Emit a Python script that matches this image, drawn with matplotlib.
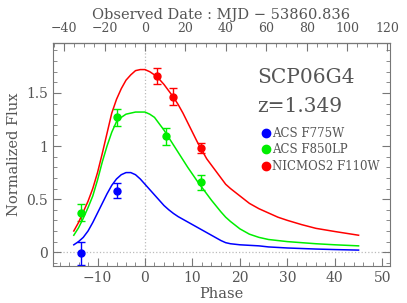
import numpy as np
import matplotlib
matplotlib.use("Agg")
import matplotlib.pyplot as plt
from matplotlib.lines import Line2D
from matplotlib.ticker import MultipleLocator, FixedLocator

# light curve templates (phase in rest-frame days)
phase = [-15, -14, -13, -12, -11, -10, -9, -8, -7, -6, -5, -4, -3, -2, -1, 0,
         1, 2, 3, 4, 5, 6, 7, 8, 9, 10, 11, 12, 13, 14, 15, 16, 17,
         18, 20, 22, 24, 26, 28, 30, 33, 36, 40, 45]
f775_model = [0.07, 0.10, 0.14, 0.20, 0.28, 0.37, 0.46, 0.55, 0.63, 0.69, 0.73,
              0.75, 0.75, 0.73, 0.69, 0.64, 0.59, 0.54, 0.49, 0.44, 0.40, 0.365,
              0.335, 0.31, 0.285, 0.26, 0.235, 0.21, 0.185, 0.16, 0.135, 0.11,
              0.09, 0.08, 0.07, 0.065, 0.06, 0.05, 0.045, 0.04, 0.035, 0.03,
              0.025, 0.02]
f850_model = [0.16, 0.23, 0.32, 0.42, 0.53, 0.68, 0.85, 1.00, 1.13, 1.23, 1.27,
              1.30, 1.31, 1.32, 1.32, 1.32, 1.30, 1.27, 1.21, 1.15, 1.08, 1.01,
              0.94, 0.87, 0.80, 0.735, 0.67, 0.61, 0.55, 0.49, 0.435, 0.38,
              0.33, 0.29, 0.22, 0.17, 0.14, 0.12, 0.11, 0.10, 0.09, 0.08, 0.07,
              0.06]
f110_model = [0.20, 0.28, 0.38, 0.48, 0.60, 0.75, 0.93, 1.12, 1.31, 1.44, 1.54,
              1.62, 1.67, 1.71, 1.72, 1.72, 1.70, 1.67, 1.63, 1.58, 1.52, 1.46,
              1.39, 1.31, 1.22, 1.13, 1.04, 0.96, 0.88, 0.82, 0.76, 0.70, 0.64,
              0.60, 0.53, 0.46, 0.41, 0.37, 0.33, 0.30, 0.26, 0.225, 0.195, 0.16]

# observed points
f775_ph = [-13.5, -5.9]
f775_flux = [-0.01, 0.58]
f775_err = [0.11, 0.07]

f850_ph = [-13.5, -5.9, 4.4, 11.9]
f850_flux = [0.37, 1.27, 1.09, 0.66]
f850_err = [0.08, 0.08, 0.08, 0.07]

f110_ph = [2.5, 5.8, 11.8]
f110_flux = [1.66, 1.465, 0.98]
f110_err = [0.075, 0.08, 0.05]

z = 1.349
mjd_ticks = [-40, -20, 0, 20, 40, 60, 80, 100, 120]
names = ["ACS F775W", "ACS F850LP", "NICMOS2 F110W"]
cols = ["#0000ff", "#00ee00", "#ff0000"]

plt.rcParams['font.family'] = 'DejaVu Serif'
txtc = '#555555'

fig = plt.figure(figsize=(4.07, 3.03), dpi=100)
ax = fig.add_axes([0.130, 0.122, 0.828, 0.736])

ax.axvline(0, color='#bbbbbb', ls=':', lw=0.9, zorder=0)
ax.axhline(0, color='#bbbbbb', ls=':', lw=0.9, zorder=0)

models = [f775_model, f850_model, f110_model]
obs = [(f775_ph, f775_flux, f775_err), (f850_ph, f850_flux, f850_err),
       (f110_ph, f110_flux, f110_err)]
for m, (px, fy, fe), c in zip(models, obs, cols):
    ax.plot(phase, m, color=c, lw=1.1)
    ax.errorbar(px, fy, yerr=fe, fmt='o', color=c, ms=5, elinewidth=1.0,
                capsize=3, capthick=1.0)

ax.set_xlim(-19.4, 51.6)
ax.set_ylim(-0.13, 1.97)
ax.xaxis.set_major_locator(MultipleLocator(10))
ax.xaxis.set_minor_locator(MultipleLocator(2))
ax.yaxis.set_major_locator(MultipleLocator(0.5))
ax.yaxis.set_minor_locator(MultipleLocator(0.1))
ax.yaxis.set_major_formatter(plt.FuncFormatter(lambda v, p: '%g' % v))
ax.tick_params(which='both', direction='in', right=True, colors='#777777',
               labelcolor=txtc, labelsize=10)
ax.tick_params(which='major', length=6)
ax.tick_params(which='minor', length=3)
ax.tick_params(axis='x', which='both', top=False)
for s in ax.spines.values():
    s.set_color('#777777')

ax.set_xlabel('Phase', color=txtc, fontsize=10.5, labelpad=1.5)
ax.set_ylabel('Normalized Flux', color=txtc, fontsize=10.5, labelpad=4)

top = ax.secondary_xaxis('top', functions=(lambda p: p * (1 + z),
                                           lambda d: d / (1 + z)))
top.xaxis.set_major_locator(FixedLocator(mjd_ticks))
top.xaxis.set_minor_locator(MultipleLocator(5))
top.tick_params(which='both', direction='in', colors='#777777',
                labelcolor=txtc, labelsize=9, pad=6)
top.tick_params(which='major', length=6)
top.tick_params(which='minor', length=3)
top.set_xlabel('Observed Date : MJD \u2212 53860.836', color=txtc,
               fontsize=10.5, labelpad=2)

ax.text(0.605, 0.845, 'SCP06G4', transform=ax.transAxes, fontsize=14.5,
        color=txtc, va='center')
ax.text(0.605, 0.715, 'z=1.349', transform=ax.transAxes, fontsize=14.5,
        color=txtc, va='center')

handles = [Line2D([], [], ls='', marker='o', ms=6, color=c) for c in cols]
ax.legend(handles, names, loc='upper left', bbox_to_anchor=(0.605, 0.645),
          frameon=False, fontsize=8.5, handletextpad=0.1, labelspacing=0.3,
          labelcolor=txtc, borderaxespad=0, handlelength=0.8)

fig.savefig('out.png', dpi=100)
